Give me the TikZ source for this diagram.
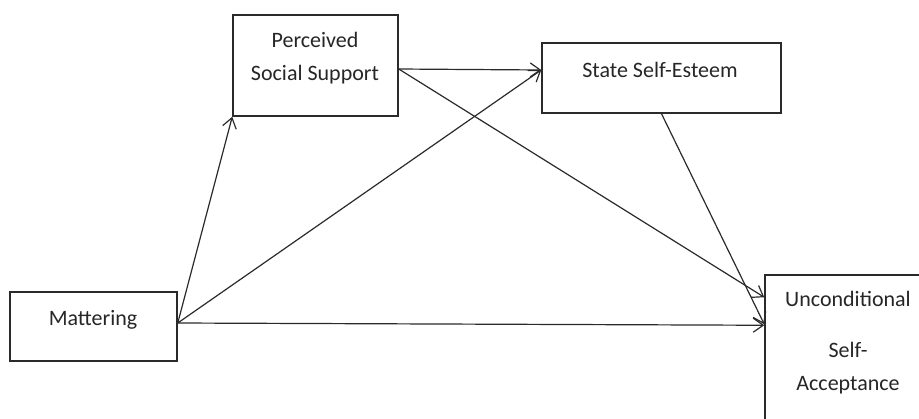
\documentclass[tikz,border=0pt]{standalone}
\usepackage{fontspec}
\setmainfont{Carlito}
\usetikzlibrary{arrows.meta,calc}
\definecolor{linec}{HTML}{2A2A2A}
\definecolor{textc}{HTML}{262626}
\begin{document}
\begin{tikzpicture}[x=0.5pt,y=-0.5pt,
  box/.style={draw=linec, line width=0.75pt, inner sep=0pt, rectangle},
  lbl/.style={text=textc, font=\fontsize{11}{17}\selectfont, inner sep=0pt, anchor=base},
  conn/.style={draw=linec, line width=0.6pt, -{Straight Barb[length=5pt,width=7pt,line width=0.6pt]}}]
\useasboundingbox (0,0) rectangle (919,418);
\clip (0,0) rectangle (919,418);
% boxes
\node[box, minimum width=83.5pt, minimum height=34.5pt] (m) at (93.5,326.5) {};
\node[box, minimum width=82.5pt, minimum height=50.5pt] (pss) at (315.5,65.5) {};
\node[box, minimum width=119.5pt, minimum height=35pt] (sse) at (661.5,78) {};
\node[box, minimum width=90pt, minimum height=85pt] (ua) at (855,360) {};
% labels
\node[lbl] (mt) at (93,325) {Mattering};
\node[lbl] (pt1) at (315,47) {Perceived};
\node[lbl] (pt2) at (315,80) {Social Support};
\node[lbl] (st) at (660,77) {State Self-Esteem};
\node[lbl] (ut1) at (848,306) {Unconditional};
\node[lbl] (ut2) at (848,357) {Self-};
\node[lbl] (ut3) at (848,390) {Acceptance};
% connectors
\draw[conn] ($(m.east)+(0,-3.5)$) -- (pss.south west);
\draw[conn] ($(m.east)+(0,-3.5)$) -- ($(sse.west)+(0,-8)$);
\draw[conn] ($(m.east)+(0,-3.5)$) -- ($(ua.north west)+(0,51)$);
\draw[conn] ($(pss.east)+(0,3.5)$) -- ($(sse.west)+(0,-8)$);
\draw[conn] ($(pss.east)+(0,3.5)$) -- ($(ua.north west)+(0,23)$);
\draw[conn] (sse.south) -- ($(ua.north west)+(0,50)$);
\end{tikzpicture}
\end{document}
